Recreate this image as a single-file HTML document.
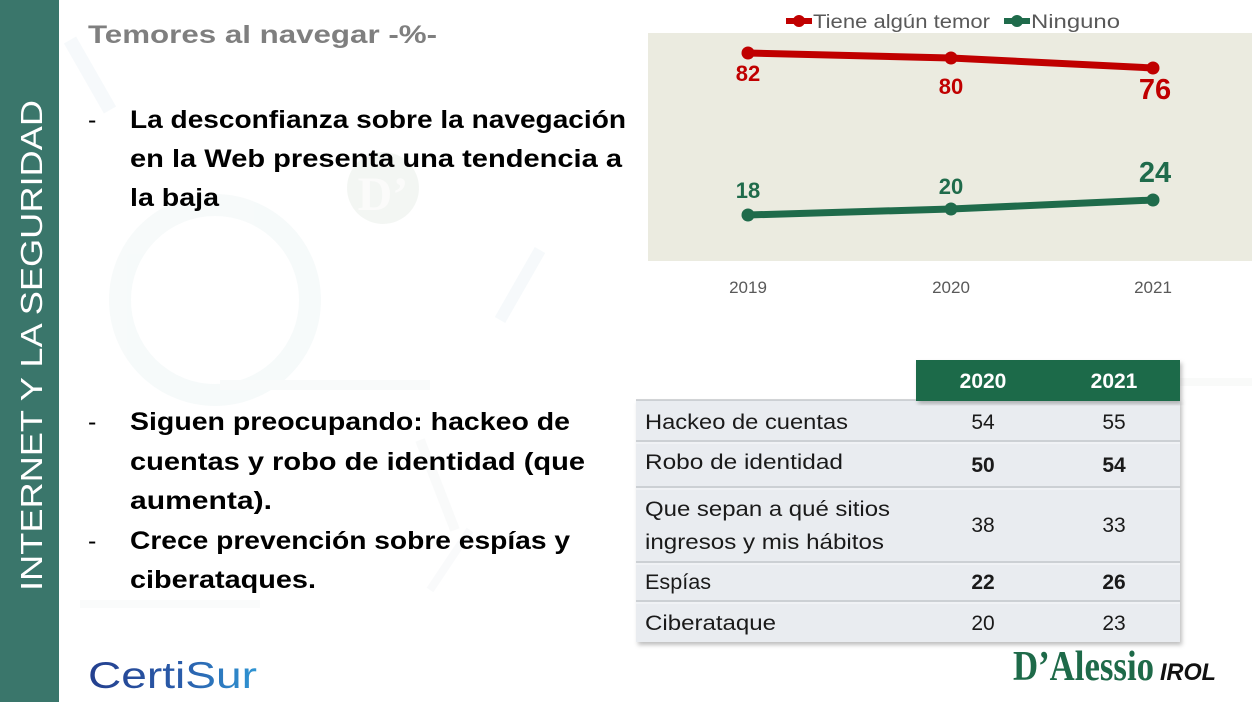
<!DOCTYPE html>
<html><head><meta charset="utf-8"><style>
html,body{margin:0;padding:0;background:#fff;}
svg{display:block;}
text{font-family:"Liberation Sans",sans-serif;}
text.serif{font-family:"Liberation Serif",serif;}
</style></head><body>
<svg width="1252" height="702" viewBox="0 0 1252 702" xmlns="http://www.w3.org/2000/svg">
<defs>
<filter id="sh" x="-5%" y="-5%" width="110%" height="115%"><feDropShadow dx="2" dy="3" stdDeviation="2" flood-color="#000" flood-opacity="0.25"/></filter>
<linearGradient id="cs" x1="0" x2="1" y1="0" y2="0"><stop offset="0" stop-color="#243f8e"/><stop offset="0.55" stop-color="#2a5caa"/><stop offset="1" stop-color="#2f95d3"/></linearGradient>
</defs>
<rect width="1252" height="702" fill="#ffffff"/>
<!-- faint watermark -->
<g opacity="0.35">
<circle cx="215" cy="300" r="95" fill="none" stroke="#e8f1f2" stroke-width="22"/>
<circle cx="383" cy="188" r="36" fill="#dfe7df"/>
<text class="serif" x="383" y="210" text-anchor="middle" font-weight="bold" font-size="48" fill="#f4f6f2">D’</text>
<path d="M70 40 L110 110" stroke="#e6eff4" stroke-width="14"/>
<path d="M540 250 L500 320" stroke="#e6f0f4" stroke-width="12"/>
<rect x="220" y="380" width="210" height="10" fill="#f0f2f2"/>
<rect x="80" y="600" width="180" height="8" fill="#f2f4f4"/>
<rect x="1180" y="378" width="72" height="8" fill="#eef2ef"/>
<path d="M420 440 L455 530" stroke="#f0f3f3" stroke-width="10"/>
<path d="M470 530 L430 590" stroke="#eef3f4" stroke-width="8"/>
</g>
<!-- left bar -->
<rect x="0" y="0" width="59" height="702" fill="#3a766b"/>
<text transform="translate(42,591) rotate(-90)" font-size="31" fill="#ffffff" textLength="491" lengthAdjust="spacingAndGlyphs">INTERNET Y LA SEGURIDAD</text>
<!-- title -->
<text x="88" y="43" font-size="25" font-weight="bold" fill="#7f7f7f" textLength="349" lengthAdjust="spacingAndGlyphs">Temores al navegar -%-</text>
<!-- bullets -->
<g font-size="25" font-weight="bold" fill="#000">
<text x="88" y="128" font-weight="normal">-</text>
<text x="130" y="128" textLength="496" lengthAdjust="spacingAndGlyphs">La desconfianza sobre la navegación</text>
<text x="130" y="167" textLength="492" lengthAdjust="spacingAndGlyphs">en la Web presenta una tendencia a</text>
<text x="130" y="206" textLength="89" lengthAdjust="spacingAndGlyphs">la baja</text>
<text x="88" y="430" font-weight="normal">-</text>
<text x="130" y="430" textLength="440" lengthAdjust="spacingAndGlyphs">Siguen preocupando: hackeo de</text>
<text x="130" y="470" textLength="455" lengthAdjust="spacingAndGlyphs">cuentas y robo de identidad (que</text>
<text x="130" y="509" textLength="142" lengthAdjust="spacingAndGlyphs">aumenta).</text>
<text x="88" y="549" font-weight="normal">-</text>
<text x="130" y="549" textLength="440" lengthAdjust="spacingAndGlyphs">Crece prevención sobre espías y</text>
<text x="130" y="588" textLength="186" lengthAdjust="spacingAndGlyphs">ciberataques.</text>
</g>
<!-- chart -->
<rect x="648" y="33" width="604" height="228" fill="#ebebe0"/>
<line x1="786" y1="21" x2="812" y2="21" stroke="#c00000" stroke-width="6"/>
<circle cx="799" cy="21" r="6" fill="#c00000"/>
<text x="813" y="28" font-size="19" fill="#595959" textLength="177" lengthAdjust="spacingAndGlyphs">Tiene algún temor</text>
<line x1="1004" y1="21" x2="1030" y2="21" stroke="#1f6b4b" stroke-width="6"/>
<circle cx="1017" cy="21" r="6" fill="#1f6b4b"/>
<text x="1031" y="28" font-size="19" fill="#595959" textLength="89" lengthAdjust="spacingAndGlyphs">Ninguno</text>
<polyline points="748,53 951,58 1153,68" fill="none" stroke="#c00000" stroke-width="7" stroke-linejoin="round"/>
<circle cx="748" cy="53" r="6.5" fill="#c00000"/><circle cx="951" cy="58" r="6.5" fill="#c00000"/><circle cx="1153" cy="68" r="6.5" fill="#c00000"/>
<polyline points="748,215 951,209 1153,200" fill="none" stroke="#1f6b4b" stroke-width="7" stroke-linejoin="round"/>
<circle cx="748" cy="215" r="6.5" fill="#1f6b4b"/><circle cx="951" cy="209" r="6.5" fill="#1f6b4b"/><circle cx="1153" cy="200" r="6.5" fill="#1f6b4b"/>
<g font-weight="bold" text-anchor="middle">
<text x="748" y="81" font-size="22" fill="#c00000">82</text>
<text x="951" y="94" font-size="22" fill="#c00000">80</text>
<text x="1155" y="99" font-size="29" fill="#c00000">76</text>
<text x="748" y="198" font-size="22" fill="#1f6b4b">18</text>
<text x="951" y="194" font-size="22" fill="#1f6b4b">20</text>
<text x="1155" y="182" font-size="29" fill="#1f6b4b">24</text>
</g>
<g font-size="17" fill="#595959" text-anchor="middle">
<text x="748" y="293">2019</text><text x="951" y="293">2020</text><text x="1153" y="293">2021</text>
</g>
<!-- table -->
<rect x="636" y="400" width="544" height="242" fill="#e9ecf0" filter="url(#sh)"/>
<rect x="916" y="360" width="264" height="41" fill="#1e6a49" filter="url(#sh)"/>
<g stroke="#c3c6ca" stroke-width="1.5">
<line x1="636" y1="400" x2="916" y2="400"/>
<line x1="636" y1="441" x2="1180" y2="441"/>
<line x1="636" y1="487" x2="1180" y2="487"/>
<line x1="636" y1="562" x2="1180" y2="562"/>
<line x1="636" y1="601" x2="1180" y2="601"/>
</g>
<g stroke="#f7f8fa" stroke-width="1">
<line x1="636" y1="443" x2="1180" y2="443"/>
<line x1="636" y1="489" x2="1180" y2="489"/>
<line x1="636" y1="564" x2="1180" y2="564"/>
<line x1="636" y1="603" x2="1180" y2="603"/>
</g>
<g font-size="21" font-weight="bold" fill="#ffffff" text-anchor="middle">
<text x="983" y="388">2020</text><text x="1114" y="388">2021</text>
</g>
<g font-size="21" fill="#1a1a1a">
<text x="645" y="429" textLength="203" lengthAdjust="spacingAndGlyphs">Hackeo de cuentas</text>
<text x="645" y="469" textLength="198" lengthAdjust="spacingAndGlyphs">Robo de identidad</text>
<text x="645" y="516" textLength="245" lengthAdjust="spacingAndGlyphs">Que sepan a qué sitios</text>
<text x="645" y="549" textLength="239" lengthAdjust="spacingAndGlyphs">ingresos y mis hábitos</text>
<text x="645" y="589" textLength="66" lengthAdjust="spacingAndGlyphs">Espías</text>
<text x="645" y="630" textLength="131" lengthAdjust="spacingAndGlyphs">Ciberataque</text>
</g>
<g font-size="21" fill="#1a1a1a" text-anchor="middle">
<text x="983" y="429">54</text><text x="1114" y="429">55</text>
<text x="983" y="472" font-weight="bold">50</text><text x="1114" y="472" font-weight="bold">54</text>
<text x="983" y="532">38</text><text x="1114" y="532">33</text>
<text x="983" y="589" font-weight="bold">22</text><text x="1114" y="589" font-weight="bold">26</text>
<text x="983" y="630">20</text><text x="1114" y="630">23</text>
</g>
<!-- logos -->
<text x="88" y="688" font-size="37" fill="url(#cs)" textLength="169" lengthAdjust="spacingAndGlyphs">CertiSur</text>
<text class="serif" x="1013" y="680" font-weight="bold" font-size="42" fill="#1e6a49" textLength="141" lengthAdjust="spacingAndGlyphs">D’Alessio</text>
<text x="1160" y="680" font-size="24" font-weight="bold" font-style="italic" fill="#111" textLength="56" lengthAdjust="spacingAndGlyphs">IROL</text>
</svg>
</body></html>
